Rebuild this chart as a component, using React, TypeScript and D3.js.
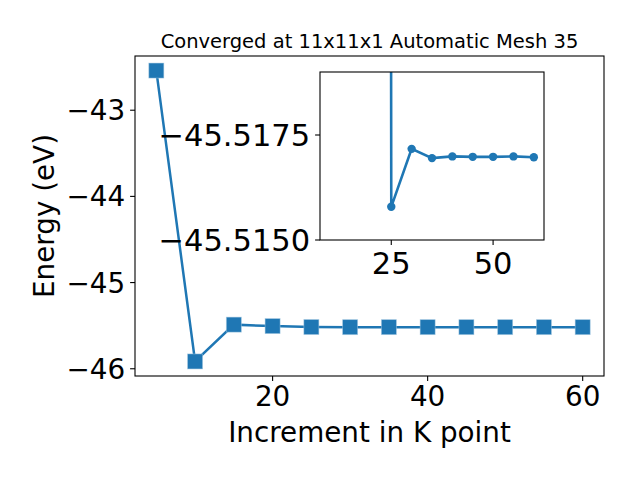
import React, { useEffect, useRef } from "react";
import * as d3 from "d3";

// Main chart data
const kPoints = [5, 10, 15, 20, 25, 30, 35, 40, 45, 50, 55, 60];
const energies = [-42.54, -45.915, -45.488, -45.505, -45.5158, -45.5172, -45.51695, -45.51699, -45.51698, -45.51698, -45.51699, -45.51697];

// Inset data (zoomed view)
const insetK = [20, 25, 30, 35, 40, 45, 50, 55, 60];
const insetE = [-45.9, -45.51579, -45.51717, -45.51695, -45.51699, -45.51698, -45.51698, -45.51699, -45.51697];

const mainXTicks = [20, 40, 60];
const mainYTicks = [-43, -44, -45, -46];
const insetXTicks = [25, 50];
const insetYTicks = [-45.5175, -45.515];

const titleText = "Converged at 11x11x1 Automatic Mesh 35";
const xLabel = "Increment in K point";
const yLabel = "Energy (eV)";

const BLUE = "#1f77b4";
const FONT = "DejaVu Sans";

export default function App() {
  const ref = useRef<SVGSVGElement>(null);

  useEffect(() => {
    const svg = d3.select(ref.current);
    svg.selectAll("*").remove();

    const M = { left: 135, right: 604, top: 56, bottom: 376 };
    const x = d3.scaleLinear().domain([2.25, 62.75]).range([M.left, M.right]);
    const y = d3.scaleLinear().domain([-46.084, -42.371]).range([M.bottom, M.top]);

    svg.append("rect").attr("width", 640).attr("height", 480).attr("fill", "white");

    const fmt = (v: number, d: number) => (v < 0 ? "\u2212" : "") + Math.abs(v).toFixed(d);

    // main line
    const line = d3.line<number>().x((_, i) => x(kPoints[i])).y((d) => y(d));
    svg.append("path").datum(energies).attr("d", line).attr("fill", "none")
      .attr("stroke", BLUE).attr("stroke-width", 2.5);
    const ms = 15;
    svg.selectAll("rect.m").data(energies).enter().append("rect")
      .attr("x", (_, i) => x(kPoints[i]) - ms / 2)
      .attr("y", (d) => y(d) - ms / 2)
      .attr("width", ms).attr("height", ms)
      .attr("fill", BLUE).attr("stroke", "#a5c8e1").attr("stroke-width", 0.8).attr("stroke-opacity", 0.6);

    // main frame
    svg.append("rect").attr("x", M.left).attr("y", M.top)
      .attr("width", M.right - M.left).attr("height", M.bottom - M.top)
      .attr("fill", "none").attr("stroke", "black").attr("stroke-width", 1.1);

    // ticks
    const fs = 27.8;
    mainXTicks.forEach((t) => {
      svg.append("line").attr("x1", x(t)).attr("x2", x(t)).attr("y1", M.bottom).attr("y2", M.bottom + 4.9)
        .attr("stroke", "black").attr("stroke-width", 1.1);
      svg.append("text").attr("x", x(t)).attr("y", M.bottom + 30).attr("text-anchor", "middle")
        .attr("font-family", FONT).attr("font-size", fs).text(fmt(t, 0));
    });
    mainYTicks.forEach((t) => {
      svg.append("line").attr("x1", M.left - 4.9).attr("x2", M.left).attr("y1", y(t)).attr("y2", y(t))
        .attr("stroke", "black").attr("stroke-width", 1.1);
      svg.append("text").attr("x", M.left - 9.8).attr("y", y(t) + 10).attr("text-anchor", "end")
        .attr("font-family", FONT).attr("font-size", fs).text(fmt(t, 0));
    });

    svg.append("text").attr("x", (M.left + M.right) / 2).attr("y", 442).attr("text-anchor", "middle")
      .attr("font-family", FONT).attr("font-size", fs).text(xLabel);
    svg.append("text").attr("transform", `translate(53.5, ${(M.top + M.bottom) / 2}) rotate(-90)`)
      .attr("text-anchor", "middle").attr("font-family", FONT).attr("font-size", fs).text(yLabel);
    svg.append("text").attr("x", (M.left + M.right) / 2).attr("y", 48).attr("text-anchor", "middle")
      .attr("font-family", FONT).attr("font-size", 19.5).text(titleText);

    // inset
    const I = { left: 320, right: 544, top: 72, bottom: 240 };
    const ifs = 30.5;
    const ix = d3.scaleLinear().domain([7.5, 62.5]).range([I.left, I.right]);
    const iy = d3.scaleLinear().domain([-45.515, -45.519]).range([I.bottom, I.top]);
    const clipId = "insetClip";
    svg.append("defs").append("clipPath").attr("id", clipId).append("rect")
      .attr("x", I.left).attr("y", I.top).attr("width", I.right - I.left).attr("height", I.bottom - I.top);
    svg.append("rect").attr("x", I.left).attr("y", I.top).attr("width", I.right - I.left)
      .attr("height", I.bottom - I.top).attr("fill", "white");
    const g = svg.append("g").attr("clip-path", `url(#${clipId})`);
    const iline = d3.line<number>().x((_, i) => ix(insetK[i])).y((d) => iy(d));
    g.append("path").datum(insetE).attr("d", iline).attr("fill", "none")
      .attr("stroke", BLUE).attr("stroke-width", 2.6);
    g.selectAll("circle").data(insetE).enter().append("circle")
      .attr("cx", (_, i) => ix(insetK[i])).attr("cy", (d) => iy(d)).attr("r", 4.2).attr("fill", BLUE);
    svg.append("rect").attr("x", I.left).attr("y", I.top).attr("width", I.right - I.left)
      .attr("height", I.bottom - I.top).attr("fill", "none").attr("stroke", "black").attr("stroke-width", 1.1);
    insetXTicks.forEach((t) => {
      svg.append("line").attr("x1", ix(t)).attr("x2", ix(t)).attr("y1", I.bottom).attr("y2", I.bottom + 4.9)
        .attr("stroke", "black").attr("stroke-width", 1.1);
      svg.append("text").attr("x", ix(t)).attr("y", I.bottom + 34).attr("text-anchor", "middle")
        .attr("font-family", FONT).attr("font-size", ifs).text(fmt(t, 0));
    });
    insetYTicks.forEach((t) => {
      svg.append("line").attr("x1", I.left - 4.9).attr("x2", I.left).attr("y1", iy(t)).attr("y2", iy(t))
        .attr("stroke", "black").attr("stroke-width", 1.1);
      svg.append("text").attr("x", I.left - 9.8).attr("y", iy(t) + 11).attr("text-anchor", "end")
        .attr("font-family", FONT).attr("font-size", ifs).text(fmt(t, 4));
    });
  }, []);

  return (
    <svg ref={ref} width={640} height={480}
      style={{ position: "absolute", left: 0, top: 0, display: "block" }} />
  );
}
